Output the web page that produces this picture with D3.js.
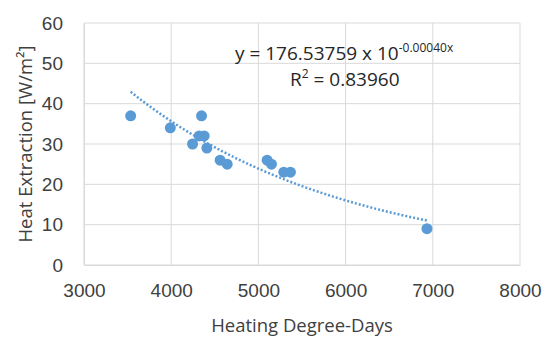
<!DOCTYPE html>
<html>
<head>
<meta charset="utf-8">
<script src="https://cdn.jsdelivr.net/npm/d3@7"></script>
<style>
  body { margin: 0; background: #fff; }
  svg { font-family: "Open Sans", sans-serif; }
  .tick text { fill: #404040; font-size: 19px; }
</style>
</head>
<body>
<svg id="chart" width="550" height="350"></svg>
<script>
// heating degree-days vs heat extraction
const hdd = [3535, 3990, 4245, 4321, 4348, 4378, 4409, 4561, 4642, 5100, 5150, 5291, 5367, 6933];
const heat = [37, 34, 30, 32, 37, 32, 29, 26, 25, 26, 25, 23, 23, 9];
const xTicks = [3000, 4000, 5000, 6000, 7000, 8000];
const yTicks = [0, 10, 20, 30, 40, 50, 60];
// trendline coefficients shown on the chart
const trendA = 176.53759;
const trendB = 0.0004;

const SVG = d3.select("#chart");
const MARGIN = { top: 23, bottom: 85, right: 30, left: 84 };
const WIDTH = 550, HEIGHT = 350;
const INNERWIDTH = WIDTH - MARGIN.left - MARGIN.right;
const INNERHEIGHT = HEIGHT - MARGIN.top - MARGIN.bottom;
const BLUE = "#5b9bd5";

const xScale = d3.scaleLinear().domain([3000, 8000]).range([0, INNERWIDTH]);
const yScale = d3.scaleLinear().domain([0, 60]).range([INNERHEIGHT, 0]);

const g = SVG.append("g")
  .attr("transform", "translate(" + MARGIN.left + "," + MARGIN.top + ")");

// gridlines
g.append("g")
  .selectAll("line")
  .data(yTicks)
  .join("line")
  .attr("x1", 0)
  .attr("x2", INNERWIDTH)
  .attr("y1", (d) => yScale(d))
  .attr("y2", (d) => yScale(d))
  .attr("stroke", "#d9d9d9")
  .attr("stroke-width", 1);
g.append("g")
  .selectAll("line")
  .data(xTicks)
  .join("line")
  .attr("x1", (d) => xScale(d))
  .attr("x2", (d) => xScale(d))
  .attr("y1", 0)
  .attr("y2", INNERHEIGHT)
  .attr("stroke", "#d9d9d9")
  .attr("stroke-width", 1);

// axes
const xAxis = g.append("g")
  .attr("transform", "translate(0," + INNERHEIGHT + ")")
  .call(d3.axisBottom(xScale).tickValues(xTicks).tickSize(0).tickPadding(19).tickFormat(d3.format("d")));
xAxis.select(".domain").attr("stroke", "#d9d9d9");

const yAxis = g.append("g")
  .call(d3.axisLeft(yScale).tickValues(yTicks).tickSize(0).tickPadding(21));
yAxis.select(".domain").attr("stroke", "#d9d9d9");

// trendline
const lo = d3.min(hdd), hi = d3.max(hdd);
const trendX = d3.range(lo, hi + 1, (hi - lo) / 60);
g.append("path")
  .datum(trendX)
  .attr("d", d3.line()
    .x((d) => xScale(d))
    .y((d) => yScale(trendA * Math.exp(-trendB * d))))
  .attr("fill", "none")
  .attr("stroke", BLUE)
  .attr("stroke-width", 2.5)
  .attr("stroke-dasharray", "2,2");

// points
g.append("g")
  .selectAll("circle")
  .data(hdd)
  .join("circle")
  .attr("cx", (d) => xScale(d))
  .attr("cy", (d, i) => yScale(heat[i]))
  .attr("r", 5.5)
  .attr("fill", BLUE);

// equation labels
const eq = g.append("text")
  .attr("x", 151)
  .attr("y", 37)
  .attr("fill", "#262626")
  .style("font-size", "19px");
eq.append("tspan").text("y = 176.53759 x 10");
eq.append("tspan").attr("dy", -8).style("font-size", "12px").text("-0.00040x");

const r2 = g.append("text")
  .attr("x", 206)
  .attr("y", 63)
  .attr("fill", "#262626")
  .style("font-size", "19px");
r2.append("tspan").text("R");
r2.append("tspan").attr("dy", -8).style("font-size", "12px").text("2");
r2.append("tspan").attr("dy", 8).text(" = 0.83960");

// axis titles
g.append("text")
  .attr("text-anchor", "middle")
  .attr("x", INNERWIDTH / 2)
  .attr("y", INNERHEIGHT + 67)
  .attr("fill", "#404040")
  .style("font-size", "18.5px")
  .text("Heating Degree-Days");

g.append("text")
  .attr("text-anchor", "middle")
  .attr("transform", "translate(-52," + INNERHEIGHT / 2 + ") rotate(-90)")
  .attr("fill", "#404040")
  .style("font-size", "18.5px")
  .text("Heat Extraction [W/m²]");
</script>
</body>
</html>
